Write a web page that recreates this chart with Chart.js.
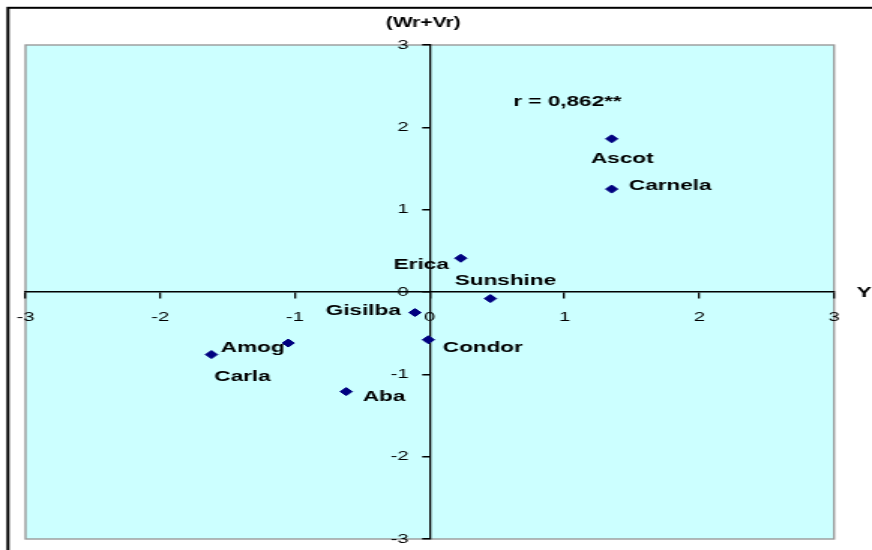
<!DOCTYPE html>
<html>
<head>
<meta charset="utf-8">
<script src="https://cdn.jsdelivr.net/npm/chart.js@4.4.1/dist/chart.umd.min.js"></script>
<style>
  html, body { margin: 0; padding: 0; background: #fff; overflow: hidden; }
  /* the original picture is stretched sideways, so draw narrow and widen */
  #c { display: block; transform: scaleX(1.50086); transform-origin: 0 0; }
</style>
</head>
<body>
<canvas id="c" width="581" height="550"></canvas>
<script>
const varieties  = ['Ascot', 'Carnela', 'Erica', 'Sunshine', 'Gisilba', 'Condor', 'Amog', 'Carla', 'Aba'];
const yrValues   = [1.35, 1.35, 0.23, 0.45, -0.11, -0.01, -1.05, -1.62, -0.62];
const wrVrValues = [1.86, 1.25, 0.41, -0.08, -0.25, -0.58, -0.62, -0.76, -1.21];
const axisTicks  = [-3, -2, -1, 0, 1, 2, 3];
const corrText   = 'r = 0,862**';

// label placement next to each point: dx, dy (px), text alignment
const labelPlace = [
  [7, 20, 'center'], [11.5, -3, 'left'], [-8, 6.5, 'right'],
  [10, -17.5, 'center'], [-9.5, -2, 'right'], [9.6, 8.5, 'left'],
  [-2.5, 4.5, 'right'], [20.7, 22, 'center'], [11, 5.5, 'left']
];

Chart.defaults.font.family = "'Liberation Sans', Arial, sans-serif";
Chart.defaults.color = '#000';

const boldFont = "bold 15px 'Liberation Sans', Arial, sans-serif";
const tickFont = "13.5px 'Liberation Sans', Arial, sans-serif";

const framePlugin = {
  id: 'frame',
  beforeDraw(chart) {
    const { ctx, chartArea: a } = chart;
    ctx.save();
    ctx.fillStyle = '#ccffff';
    ctx.fillRect(a.left, a.top, a.right - a.left, a.bottom - a.top);
    ctx.strokeStyle = '#999999';
    ctx.lineWidth = 1.4;
    ctx.strokeRect(a.left, a.top, a.right - a.left, a.bottom - a.top);
    ctx.strokeStyle = '#000';
    ctx.lineWidth = 2;
    ctx.strokeRect(5.3, 7.8, 800, 800);
    ctx.restore();
  },
  beforeDatasetsDraw(chart) {
    const { ctx, scales: { x, y } } = chart;
    ctx.save();
    // y tick labels, set off to the left of the centred axis
    ctx.font = tickFont;
    ctx.fillStyle = '#000';
    ctx.textAlign = 'right';
    ctx.textBaseline = 'middle';
    const axisX = x.getPixelForValue(0);
    y.ticks.forEach(t => ctx.fillText(String(t.value), axisX - 14, y.getPixelForValue(t.value)));
    // variety labels
    ctx.font = boldFont;
    varieties.forEach((name, i) => {
      const [dx, dy, align] = labelPlace[i];
      ctx.textAlign = align;
      ctx.fillText(name, x.getPixelForValue(yrValues[i]) + dx, y.getPixelForValue(wrVrValues[i]) + dy);
    });
    ctx.restore();
  },
  afterDraw(chart) {
    const { ctx, chartArea: a, scales: { x, y } } = chart;
    ctx.save();
    ctx.font = boldFont;
    ctx.fillStyle = '#000';
    ctx.textBaseline = 'middle';
    ctx.textAlign = 'left';
    ctx.fillText('Yr', a.right + 15, y.getPixelForValue(0) + 1);
    ctx.fillText(corrText, x.getPixelForValue(0.62), y.getPixelForValue(2.31));
    ctx.restore();
  }
};

const setTicks = scale => { scale.ticks = axisTicks.map(v => ({ value: v })); };

new Chart(document.getElementById('c'), {
  type: 'scatter',
  data: {
    datasets: [{
      data: yrValues.map((v, i) => ({ x: v, y: wrVrValues[i] })),
      pointStyle: 'rectRot',
      pointRadius: 4,
      pointHoverRadius: 4,
      backgroundColor: '#000080',
      borderColor: '#000080',
      borderWidth: 1
    }]
  },
  options: {
    responsive: false,
    animation: false,
    events: [],
    layout: { padding: { left: 8.2, right: 25.3, top: 0, bottom: 11 } },
    plugins: {
      legend: { display: false },
      tooltip: { enabled: false },
      title: {
        display: true,
        text: '(Wr+Vr)',
        color: '#000',
        font: { size: 14, weight: 'bold' },
        padding: { top: 14.6, bottom: 13.6 }
      }
    },
    scales: {
      x: {
        type: 'linear',
        min: -3, max: 3,
        position: { y: 0 },
        afterBuildTicks: setTicks,
        grid: { drawOnChartArea: false, drawTicks: true, tickLength: 6, color: '#000', lineWidth: 1.3 },
        border: { display: true, color: '#000', width: 1.5 },
        ticks: { font: { size: 13.5 }, padding: 11, maxRotation: 0, autoSkip: false }
      },
      y: {
        type: 'linear',
        min: -3, max: 3,
        position: { x: 0 },
        afterBuildTicks: setTicks,
        grid: { drawOnChartArea: false, drawTicks: true, tickLength: 4.7, color: '#000', lineWidth: 1.5 },
        border: { display: true, color: '#000', width: 1.3 },
        ticks: { display: false }
      }
    }
  },
  plugins: [framePlugin]
});
</script>
</body>
</html>
